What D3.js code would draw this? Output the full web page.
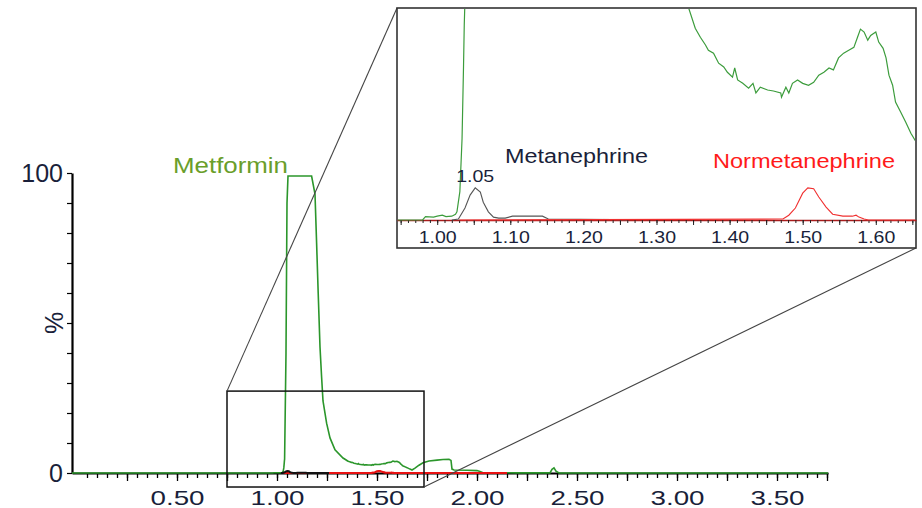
<!DOCTYPE html>
<html>
<head>
<meta charset="utf-8">
<script src="https://cdn.jsdelivr.net/npm/d3@7/dist/d3.min.js"></script>
<style>
html, body { margin: 0; padding: 0; background: #fff; }
svg { display: block; font-family: "Liberation Sans", Arial, sans-serif; }
</style>
</head>
<body>
<svg id="chart" width="922" height="508"></svg>
<script>
// chromatogram: retention time (min) vs relative intensity (%)
// [time, %]
const metformin = [
  [-0.025, 0], [0.98, 0], [0.984, 0.07], [0.995, 0.06], [1.0, 0.08], [1.007, 0.1], [1.012, 0.07],
  [1.02, 0.08], [1.025, 0.12], [1.027, 0.17], [1.031, 0.59], [1.034, 1.7], [1.036, 3.2], [1.037, 4.06],
  [1.038, 4.6], [1.045, 40], [1.05, 90], [1.055, 99], [1.173, 99], [1.19, 93], [1.198, 76.7],
  [1.206, 60], [1.215, 42], [1.223, 32], [1.23, 24], [1.248, 16.6], [1.265, 11.7], [1.29, 7.7],
  [1.33, 5.0], [1.344, 4.42], [1.353, 4.0], [1.36, 3.81], [1.367, 3.65], [1.371, 3.54], [1.378, 3.48],
  [1.385, 3.27], [1.392, 3.19], [1.397, 3.08], [1.404, 2.98], [1.407, 3.17], [1.411, 2.92], [1.418, 2.85],
  [1.426, 2.75], [1.432, 2.85], [1.436, 2.65], [1.442, 2.77], [1.452, 2.71], [1.46, 2.69], [1.47, 2.65],
  [1.471, 2.56], [1.477, 2.77], [1.481, 2.65], [1.486, 2.85], [1.493, 2.92], [1.5, 2.85], [1.508, 2.81],
  [1.515, 2.87], [1.522, 3.02], [1.529, 3.08], [1.536, 3.17], [1.542, 3.13], [1.549, 3.38], [1.556, 3.48],
  [1.563, 3.54], [1.57, 3.6], [1.575, 3.81], [1.579, 3.98], [1.584, 3.92], [1.589, 3.75], [1.593, 3.85],
  [1.6, 3.92], [1.604, 3.71], [1.61, 3.58], [1.614, 3.38], [1.618, 3.02], [1.623, 2.81], [1.627, 2.46],
  [1.634, 2.25], [1.641, 2.04], [1.648, 1.81], [1.655, 1.63], [1.665, 1.3], [1.675, 1.0], [1.69, 1.6],
  [1.71, 2.6], [1.73, 3.4], [1.76, 4.0], [1.8, 4.3], [1.83, 4.5], [1.86, 4.6], [1.87, 4.2], [1.875, 1.3],
  [1.885, 1.0], [1.95, 0.9], [2.0, 0.8], [2.015, 0.5], [2.03, 0.1], [2.2, 0.05], [2.365, 0.05],
  [2.375, 1.2], [2.385, 1.7], [2.395, 0.6], [2.41, 0], [3.755, 0]
];
const metanephrine = [
  [1.02, 0], [1.029, 0.02], [1.038, 0.25], [1.045, 0.52], [1.052, 0.67], [1.059, 0.58], [1.063, 0.37],
  [1.07, 0.17], [1.077, 0.06], [1.084, 0.04], [1.093, 0.04], [1.103, 0.08], [1.144, 0.08], [1.152, 0.02],
  [1.24, 0.01], [1.26, 0]
];
const normetanephrine = [
  [1.03, 0], [1.473, 0.02], [1.481, 0.1], [1.49, 0.25], [1.5, 0.56], [1.507, 0.67], [1.515, 0.65],
  [1.522, 0.48], [1.532, 0.27], [1.541, 0.12], [1.555, 0.08], [1.568, 0.08], [1.573, 0.1], [1.577, 0.06],
  [1.584, 0.02], [1.59, 0], [2.15, 0]
];
const mainXLabels = [0.5, 1.0, 1.5, 2.0, 2.5, 3.0, 3.5];
const mainYLabels = [0, 100];
const insetXLabels = [1.0, 1.1, 1.2, 1.3, 1.4, 1.5, 1.6];
const metPeak = [1.052, 0.67];

const svg = d3.select("#chart");
const ink = "#1a1f3a";

const x = d3.scaleLinear().domain([-0.025, 3.755]).range([72, 828]);
const y = d3.scaleLinear().domain([0, 100]).range([473, 173]);
const ix = d3.scaleLinear().domain([0.945, 1.655]).range([397, 916]);
const iy = d3.scaleLinear().domain([0, 4.4]).range([220, 9]);

// ---- main axes
const gx = svg.append("g").attr("transform", "translate(0,473)");
gx.append("g").call(d3.axisBottom(x).tickValues(d3.range(1, 76).map(i => i * 0.05))
  .tickSize(5).tickSizeOuter(0).tickFormat(""));
gx.append("g").call(d3.axisBottom(x).tickValues(d3.range(1, 16).map(i => i * 0.25))
  .tickSize(8).tickFormat("")).select(".domain").remove();
gx.append("g").call(d3.axisBottom(x).tickValues(mainXLabels).tickSize(0).tickPadding(17)
  .tickFormat(d3.format(".2f"))).select(".domain").remove();
gx.selectAll("path.domain").attr("stroke", "#000").attr("stroke-width", 2);
gx.selectAll("line").attr("stroke", "#000").attr("stroke-width", 1.3);
gx.selectAll("text").attr("font-size", 21).attr("fill", ink)
  .attr("textLength", 54).attr("lengthAdjust", "spacingAndGlyphs");

const gy = svg.append("g").attr("transform", "translate(72,0)");
gy.call(d3.axisLeft(y).tickValues(d3.range(0, 11).map(i => i * 10)).tickSize(5).tickSizeOuter(0)
  .tickPadding(4).tickFormat(d => mainYLabels.includes(d) ? d : ""));
gy.select(".domain").attr("stroke", "#000").attr("stroke-width", 2.2);
gy.selectAll("line").attr("stroke", "#000").attr("stroke-width", 1.2);
gy.selectAll("text").attr("font-size", 25).attr("fill", ink);

svg.append("text").attr("transform", "translate(63,323) rotate(-90)")
  .attr("text-anchor", "middle").attr("font-size", 25).attr("fill", ink).text("%");

// ---- main traces
const line = d3.line().x(d => x(d[0])).y(d => y(d[1]));
svg.append("path").datum(metformin).attr("d", line)
  .attr("fill", "none").attr("stroke", "#2b962b").attr("stroke-width", 1.6);
svg.append("path").datum(normetanephrine).attr("d", line)
  .attr("fill", "none").attr("stroke", "#e81212").attr("stroke-width", 2.2);
svg.append("path").datum(metanephrine).attr("d", line)
  .attr("fill", "none").attr("stroke", "#111").attr("stroke-width", 2);

svg.append("text").attr("x", 173).attr("y", 173).attr("font-size", 22).attr("fill", "#6a9e2a")
  .attr("textLength", 115).attr("lengthAdjust", "spacingAndGlyphs").text("Metformin");

// ---- zoom box and connectors
const zb = { x0: x(0.75), x1: x(1.735), y0: y(27.3), y1: y(-4.67) };
const inset = { x0: 397, x1: 916, y0: 8, y1: 248 };
svg.append("rect").attr("x", zb.x0).attr("y", zb.y0)
  .attr("width", zb.x1 - zb.x0).attr("height", zb.y1 - zb.y0)
  .attr("fill", "none").attr("stroke", "#111").attr("stroke-width", 1.5);
svg.append("line").attr("x1", zb.x0).attr("y1", zb.y0).attr("x2", inset.x0).attr("y2", inset.y0)
  .attr("stroke", "#444").attr("stroke-width", 1.1);
svg.append("line").attr("x1", zb.x1).attr("y1", zb.y1).attr("x2", inset.x1).attr("y2", inset.y1)
  .attr("stroke", "#444").attr("stroke-width", 1.1);

// ---- inset
svg.append("rect").attr("x", inset.x0).attr("y", inset.y0)
  .attr("width", inset.x1 - inset.x0).attr("height", inset.y1 - inset.y0)
  .attr("fill", "#fff").attr("stroke", "#333").attr("stroke-width", 1.6);

svg.append("clipPath").attr("id", "insetClip").append("rect")
  .attr("x", inset.x0 + 1).attr("y", inset.y0 + 1)
  .attr("width", inset.x1 - inset.x0 - 2).attr("height", 221 - inset.y0);

const gi = svg.append("g").attr("transform", "translate(0,220)");
gi.append("g").call(d3.axisBottom(ix).tickValues(d3.range(95, 166).map(i => i / 100))
  .tickSize(3).tickSizeOuter(0).tickFormat(""));
gi.append("g").call(d3.axisBottom(ix).tickValues(d3.range(19, 34).map(i => i * 0.05))
  .tickSize(5).tickFormat("")).select(".domain").remove();
gi.append("g").call(d3.axisBottom(ix).tickValues(insetXLabels).tickSize(0).tickPadding(12)
  .tickFormat(d3.format(".2f"))).select(".domain").remove();
gi.selectAll("path.domain").attr("stroke", "#a81c1c").attr("stroke-width", 1.6);
gi.selectAll("line").attr("stroke", "#222").attr("stroke-width", 1);
gi.selectAll("text").attr("font-size", 16).attr("fill", ink)
  .attr("textLength", 38).attr("lengthAdjust", "spacingAndGlyphs");

const iline = d3.line().x(d => ix(d[0])).y(d => iy(d[1]));
const gt = svg.append("g").attr("clip-path", "url(#insetClip)");
gt.append("path").datum(metformin).attr("d", iline)
  .attr("fill", "none").attr("stroke", "#3c9c3c").attr("stroke-width", 1.2);
gt.append("path").datum(metanephrine).attr("d", iline)
  .attr("fill", "none").attr("stroke", "#555").attr("stroke-width", 1.1);
gt.append("path").datum(normetanephrine).attr("d", iline)
  .attr("fill", "none").attr("stroke", "#f03030").attr("stroke-width", 1.1);

svg.append("text").attr("x", ix(metPeak[0])).attr("y", iy(metPeak[1]) - 6)
  .attr("text-anchor", "middle").attr("font-size", 16).attr("fill", ink)
  .attr("textLength", 38).attr("lengthAdjust", "spacingAndGlyphs").text("1.05");
svg.append("text").attr("x", 505).attr("y", 163).attr("font-size", 20).attr("fill", ink)
  .attr("textLength", 143).attr("lengthAdjust", "spacingAndGlyphs").text("Metanephrine");
svg.append("text").attr("x", 713).attr("y", 168).attr("font-size", 20).attr("fill", "#ff1a1a")
  .attr("textLength", 182).attr("lengthAdjust", "spacingAndGlyphs").text("Normetanephrine");
</script>
</body>
</html>
